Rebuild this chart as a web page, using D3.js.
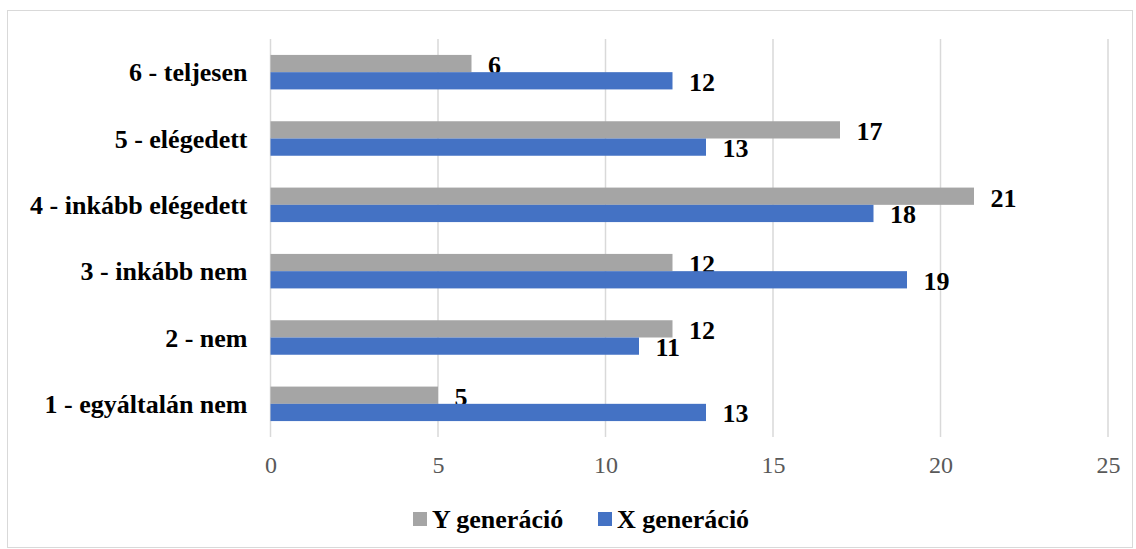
<!DOCTYPE html>
<html>
<head>
<meta charset="utf-8">
<script src="https://cdn.jsdelivr.net/npm/d3@7"></script>
<style>
  body { margin: 0; background: #fff; }
</style>
</head>
<body>
<div class="chart"></div>
<script>
// data
var categories = ["6 - teljesen", "5 - elégedett", "4 - inkább elégedett", "3 - inkább nem ", "2 - nem", "1 - egyáltalán nem"];
var seriesNames = ["Y generáció", "X generáció"];
var yValues = [6, 17, 21, 12, 12, 5];
var xValues = [12, 13, 18, 19, 11, 13];
var xTicks = [0, 5, 10, 15, 20, 25];
var colors = ["#a5a5a5", "#4472c4"];

var FONT = "Liberation Serif";

var svgWidth = 1136;
var svgHeight = 549;
var margin = {top: 39, right: 28, bottom: 112, left: 270.5};
var width = svgWidth - margin.left - margin.right;
var height = svgHeight - margin.top - margin.bottom;

var svg = d3.select(".chart")
    .append("svg")
    .attr("width", svgWidth)
    .attr("height", svgHeight);

// outer frame
svg.append("rect")
    .attr("x", 7.5).attr("y", 10.5)
    .attr("width", svgWidth - 11).attr("height", svgHeight - 12)
    .attr("fill", "none")
    .attr("stroke", "#d9d9d9");

var chart = svg.append("g")
    .attr("transform", "translate(" + margin.left + "," + margin.top + ")");

var x = d3.scaleLinear().domain([0, 25]).range([0, 837.5]);
var y = d3.scaleBand().domain(categories).range([0, height]).paddingInner(0.48).paddingOuter(0.24);
var ySub = d3.scaleBand().domain([0, 1]).range([0, y.bandwidth()]);

// gridlines
chart.selectAll(".grid")
    .data(xTicks)
    .enter()
    .append("line")
    .attr("x1", function(d) { return x(d); })
    .attr("x2", function(d) { return x(d); })
    .attr("y1", 0)
    .attr("y2", height)
    .attr("stroke", "#d9d9d9")
    .attr("stroke-width", 1.5);

// x axis labels
var bottomAxis = d3.axisBottom(x).tickValues(xTicks).tickSize(0).tickPadding(19);
var xAxis = chart.append("g")
    .attr("transform", "translate(0," + height + ")")
    .call(bottomAxis);
xAxis.select(".domain").remove();
xAxis.selectAll("text")
    .attr("font-family", FONT)
    .attr("font-size", 24)
    .attr("fill", "#595959");

// category labels
chart.selectAll(".cat")
    .data(categories)
    .enter()
    .append("text")
    .attr("x", -23)
    .attr("y", function(d) { return y(d) + y.bandwidth() / 2; })
    .attr("dy", "0.35em")
    .attr("text-anchor", "end")
    .attr("font-family", FONT)
    .attr("font-size", 26)
    .attr("font-weight", "bold")
    .text(function(d) { return d; });

var series = [yValues, xValues];

series.forEach(function(vals, s) {
    chart.selectAll(".bar" + s)
        .data(vals)
        .enter()
        .append("rect")
        .attr("x", 0)
        .attr("y", function(d, i) { return y(categories[i]) + ySub(s); })
        .attr("width", function(d) { return x(d); })
        .attr("height", ySub.bandwidth())
        .attr("fill", colors[s]);

    chart.selectAll(".lbl" + s)
        .data(vals)
        .enter()
        .append("text")
        .attr("x", function(d) { return x(d) + 16.5; })
        .attr("y", function(d, i) { return y(categories[i]) + ySub(s) + ySub.bandwidth() / 2 + (s === 0 ? 1.5 : 0.7); })
        .attr("dy", "0.35em")
        .attr("font-family", FONT)
        .attr("font-size", 26)
        .attr("font-weight", "bold")
        .text(function(d) { return d; });
});

// legend
var legend = svg.append("g").attr("transform", "translate(413,512)");
var legX = [0, 185];
seriesNames.forEach(function(name, i) {
    legend.append("rect")
        .attr("x", legX[i]).attr("y", 0)
        .attr("width", 14).attr("height", 14)
        .attr("fill", colors[i]);
    legend.append("text")
        .attr("x", legX[i] + 19)
        .attr("y", 7)
        .attr("dy", "0.35em")
        .attr("font-family", FONT)
        .attr("font-size", 26)
        .attr("font-weight", "bold")
        .text(name);
});
</script>
</body>
</html>
